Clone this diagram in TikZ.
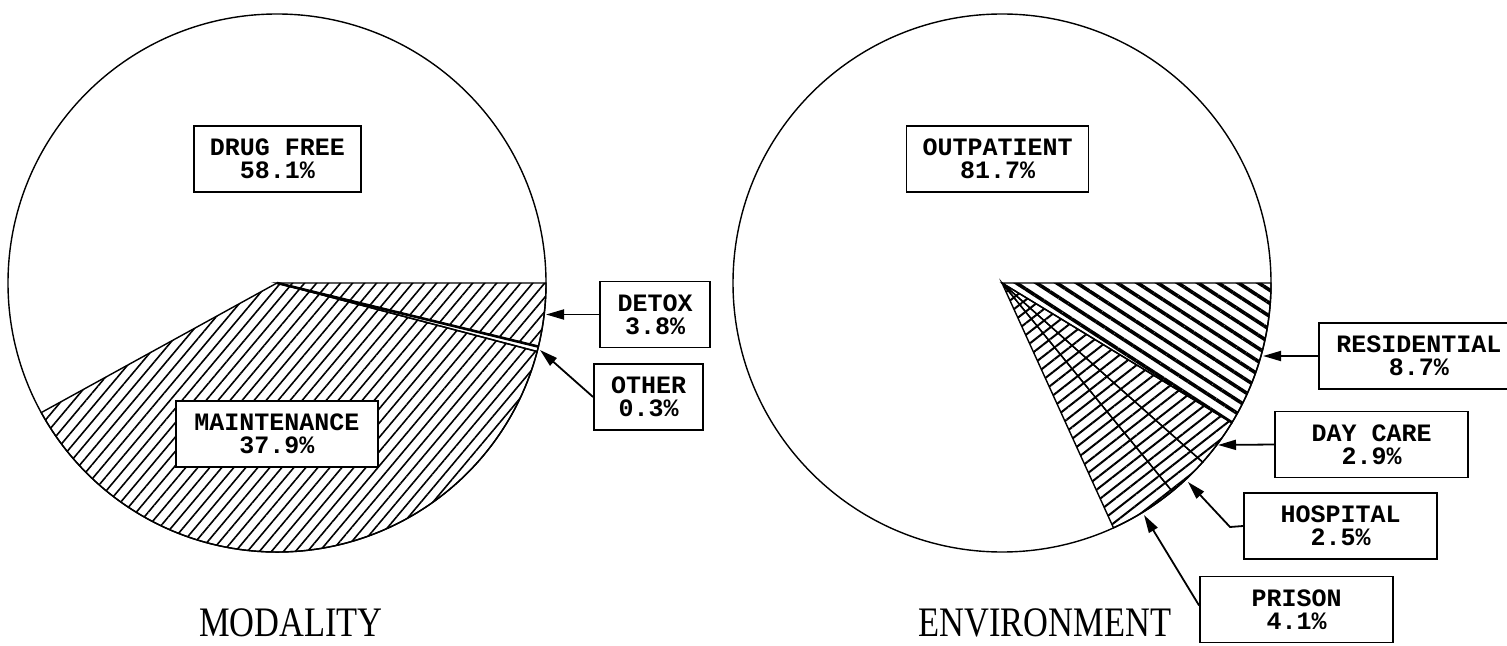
\documentclass[tikz,border=0pt]{standalone}
\usepackage{fontspec}
\setmainfont{Liberation Serif}
\newfontfamily\labelfont{Liberation Mono}
\newfontfamily\titlefont[FakeStretch=0.82]{Liberation Serif}
\usetikzlibrary{calc, positioning}
\usetikzlibrary{arrows.meta}
\usetikzlibrary{patterns.meta}

\tikzset{
  lbl/.style={draw, line width=0.9pt, fill=white, align=center, inner xsep=8pt,
    inner ysep=2pt, minimum height=33pt, font=\labelfont\bfseries\fontsize{12.5}{11.5}\selectfont},
  ptr/.style={line width=0.9pt, -{Triangle[length=9pt,width=5pt]}},
  ttl/.style={font=\titlefont\fontsize{21}{21}\selectfont},
  thinhatch/.style={pattern={Lines[angle=50,distance=4.6pt,line width=0.8pt]}},
  boldhatch/.style={pattern={Lines[angle=-33,distance=5.5pt,line width=1.8pt]}},
  finehatch/.style={pattern={Lines[angle=38,distance=4.6pt,line width=1pt]}}
}

\begin{document}
\begin{tikzpicture}[x=0.5pt, y=-0.5pt, line width=0.7pt]
\useasboundingbox (0,0) rectangle (1507,646);
\def\rad{269}
\def\detoxang{13.68}
\def\otherang{14.76}
\def\maintang{151.2}
\def\resang{31.32}
\def\dayang{41.76}
\def\hospang{50.76}
\def\prisang{65.52}

\coordinate (M) at (277,283);
\coordinate (E) at (1002,283);

\draw[thinhatch] (M) -- ++(0:\rad) arc[start angle=0, end angle=\detoxang, radius=\rad] -- cycle;
\draw[fill=white] (M) -- ++(\detoxang:\rad) arc[start angle=\detoxang, end angle=\otherang, radius=\rad] -- cycle;
\draw[thinhatch] (M) -- ++(\otherang:\rad) arc[start angle=\otherang, end angle=\maintang, radius=\rad] -- cycle;
\draw[line width=1.3pt] (M) -- ++(\detoxang:\rad);
\draw (M) circle[radius=\rad];

\draw[boldhatch] (E) -- ++(0:\rad) arc[start angle=0, end angle=\resang, radius=\rad] -- cycle;
\draw[finehatch] (E) -- ++(\resang:\rad) arc[start angle=\resang, end angle=\dayang, radius=\rad] -- cycle;
\draw[finehatch] (E) -- ++(\dayang:\rad) arc[start angle=\dayang, end angle=\hospang, radius=\rad] -- cycle;
\draw[finehatch] (E) -- ++(\hospang:\rad) arc[start angle=\hospang, end angle=\prisang, radius=\rad] -- cycle;
\draw (E) circle[radius=\rad];

\node[lbl] (drugfree) at (277.5,159) {DRUG FREE\\58.1\%};
\node[lbl, minimum width=101pt] (maint) at (277,434) {MAINTENANCE\\37.9\%};
\node[lbl, minimum width=55pt] (detox) at (655,314.5) {DETOX\\3.8\%};
\node[lbl, minimum width=54.5pt] (other) at (648.5,397) {OTHER\\0.3\%};

\node[lbl, minimum width=87.5pt] (outpat) at (997.5,159) {OUTPATIENT\\81.7\%};
\node[lbl, minimum width=100pt, anchor=west] (resid) at (1318,356) {RESIDENTIAL\\8.7\%};
\node[lbl, minimum width=96.5pt] (daycare) at (1371.5,444.5) {DAY CARE\\2.9\%};
\node[lbl, minimum width=96.5pt] (hosp) at (1340.5,526) {HOSPITAL\\2.5\%};
\node[lbl, minimum width=96.5pt] (prison) at (1296.5,609.5) {PRISON\\4.1\%};

\coordinate (detoxtip) at (546,314.5);
\coordinate (othertip) at (540,350);
\coordinate (residtip) at (1263,356);
\coordinate (daytip) at (1218,445);
\coordinate (hospbend) at (1230,527);
\coordinate (hosptip) at (1188,482);
\coordinate (prisontip) at (1144,515);

\draw[ptr] (detox.west) -- (detoxtip);
\draw[ptr] (other.west) -- (othertip);
\draw[ptr] (resid.west) -- (residtip);
\draw[ptr] (daycare.west) -- (daytip);
\draw[ptr] (hosp.west) -- (hospbend) -- (hosptip);
\draw[ptr] ([yshift=2pt]prison.west) -- (prisontip);

\node[ttl] (modality) at (291,623) {MODALITY};
\node[ttl] (environ) at (1045,623) {ENVIRONMENT};
\end{tikzpicture}
\end{document}
